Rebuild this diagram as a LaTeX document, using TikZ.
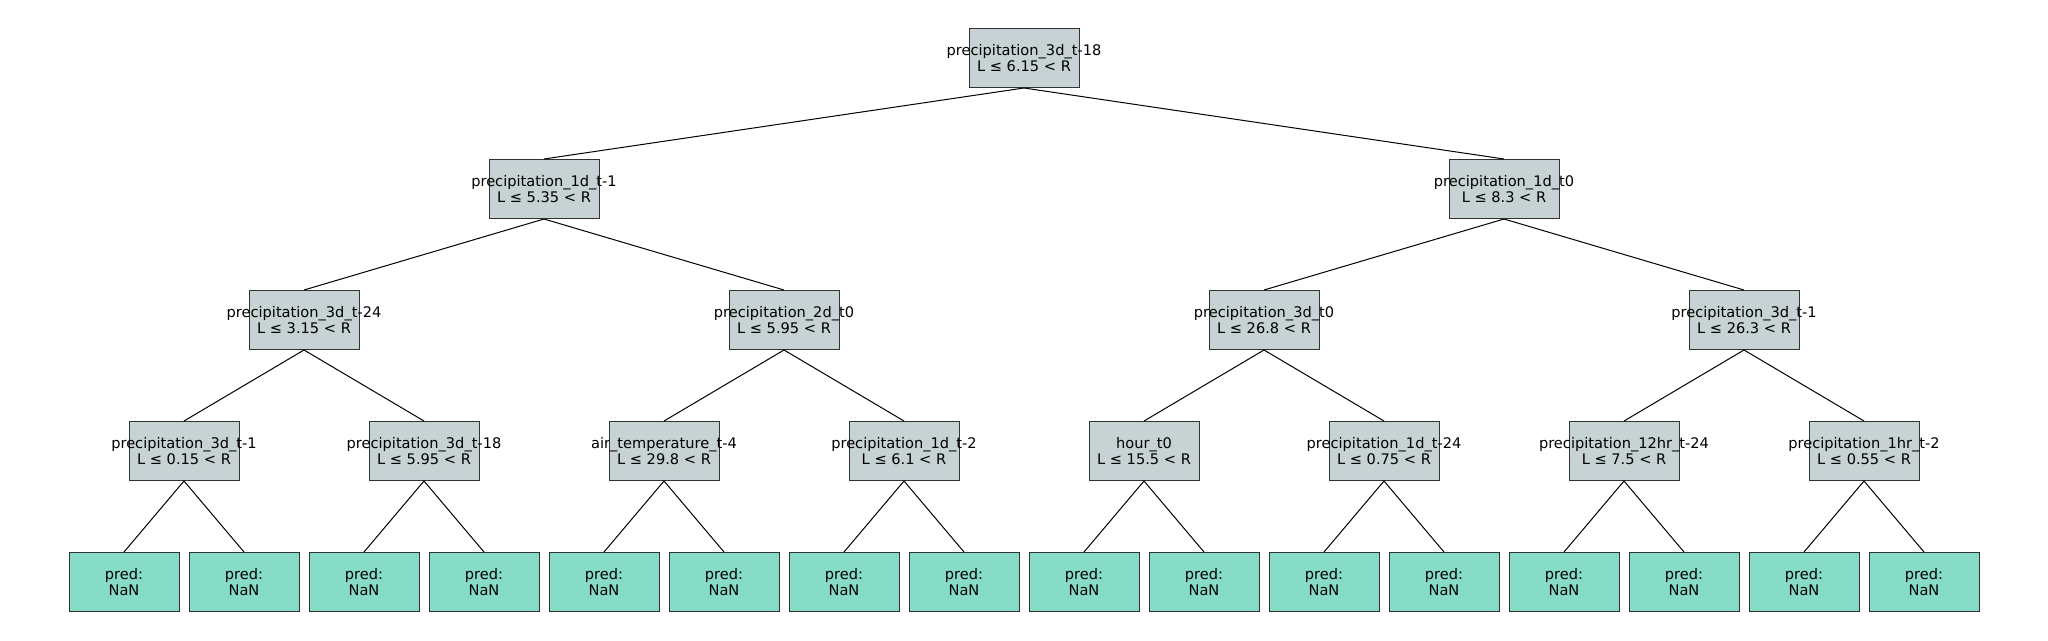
\documentclass[tikz,border=0pt]{standalone}
\usepackage{fontspec}
\setmainfont{DejaVu Sans}
\usepackage{tikz}
\usetikzlibrary{positioning}
\definecolor{splitgray}{RGB}{198,210,211}
\definecolor{leafgreen}{RGB}{134,220,199}
\definecolor{boxline}{RGB}{50,50,50}
\newcommand{\twolines}[2]{\makebox[0pt]{#1}\\\makebox[0pt]{#2}}

\begin{document}
\begin{tikzpicture}[x=1pt, y=1pt,
    splitbox/.style={draw=boxline, fill=splitgray, line width=1pt,
        minimum width=110pt, minimum height=59pt, inner sep=0pt,
        align=center, font=\fontsize{14.6}{16.8}\selectfont},
    leafbox/.style={splitbox, fill=leafgreen}]
    \useasboundingbox (0, 0) rectangle (2048, -640);

    \node[splitbox] (n0) at (1024, -58) {\twolines{precipitation\_3d\_t-18}{L ≤ 6.15 < R}};

    \node[splitbox] (n10) at (544, -189) {\twolines{precipitation\_1d\_t-1}{L ≤ 5.35 < R}};
    \node[splitbox] (n11) at (1504, -189) {\twolines{precipitation\_1d\_t0}{L ≤ 8.3 < R}};

    \node[splitbox] (n20) at (304, -320) {\twolines{precipitation\_3d\_t-24}{L ≤ 3.15 < R}};
    \node[splitbox] (n21) at (784, -320) {\twolines{precipitation\_2d\_t0}{L ≤ 5.95 < R}};
    \node[splitbox] (n22) at (1264, -320) {\twolines{precipitation\_3d\_t0}{L ≤ 26.8 < R}};
    \node[splitbox] (n23) at (1744, -320) {\twolines{precipitation\_3d\_t-1}{L ≤ 26.3 < R}};

    \node[splitbox] (n30) at (184, -451) {\twolines{precipitation\_3d\_t-1}{L ≤ 0.15 < R}};
    \node[splitbox] (n31) at (424, -451) {\twolines{precipitation\_3d\_t-18}{L ≤ 5.95 < R}};
    \node[splitbox] (n32) at (664, -451) {\twolines{air\_temperature\_t-4}{L ≤ 29.8 < R}};
    \node[splitbox] (n33) at (904, -451) {\twolines{precipitation\_1d\_t-2}{L ≤ 6.1 < R}};
    \node[splitbox] (n34) at (1144, -451) {\twolines{hour\_t0}{L ≤ 15.5 < R}};
    \node[splitbox] (n35) at (1384, -451) {\twolines{precipitation\_1d\_t-24}{L ≤ 0.75 < R}};
    \node[splitbox] (n36) at (1624, -451) {\twolines{precipitation\_12hr\_t-24}{L ≤ 7.5 < R}};
    \node[splitbox] (n37) at (1864, -451) {\twolines{precipitation\_1hr\_t-2}{L ≤ 0.55 < R}};

    \node[leafbox] (l0) at (124, -582) {pred:\\NaN};
    \node[leafbox] (l1) at (244, -582) {pred:\\NaN};
    \node[leafbox] (l2) at (364, -582) {pred:\\NaN};
    \node[leafbox] (l3) at (484, -582) {pred:\\NaN};
    \node[leafbox] (l4) at (604, -582) {pred:\\NaN};
    \node[leafbox] (l5) at (724, -582) {pred:\\NaN};
    \node[leafbox] (l6) at (844, -582) {pred:\\NaN};
    \node[leafbox] (l7) at (964, -582) {pred:\\NaN};
    \node[leafbox] (l8) at (1084, -582) {pred:\\NaN};
    \node[leafbox] (l9) at (1204, -582) {pred:\\NaN};
    \node[leafbox] (l10) at (1324, -582) {pred:\\NaN};
    \node[leafbox] (l11) at (1444, -582) {pred:\\NaN};
    \node[leafbox] (l12) at (1564, -582) {pred:\\NaN};
    \node[leafbox] (l13) at (1684, -582) {pred:\\NaN};
    \node[leafbox] (l14) at (1804, -582) {pred:\\NaN};
    \node[leafbox] (l15) at (1924, -582) {pred:\\NaN};

    \draw[line width=1pt]
    (n0.south) edge (n10.north)
    (n0.south) edge (n11.north)
    (n10.south) edge (n20.north)
    (n10.south) edge (n21.north)
    (n11.south) edge (n22.north)
    (n11.south) edge (n23.north)
    (n20.south) edge (n30.north)
    (n20.south) edge (n31.north)
    (n21.south) edge (n32.north)
    (n21.south) edge (n33.north)
    (n22.south) edge (n34.north)
    (n22.south) edge (n35.north)
    (n23.south) edge (n36.north)
    (n23.south) edge (n37.north)
    (n30.south) edge (l0.north)
    (n30.south) edge (l1.north)
    (n31.south) edge (l2.north)
    (n31.south) edge (l3.north)
    (n32.south) edge (l4.north)
    (n32.south) edge (l5.north)
    (n33.south) edge (l6.north)
    (n33.south) edge (l7.north)
    (n34.south) edge (l8.north)
    (n34.south) edge (l9.north)
    (n35.south) edge (l10.north)
    (n35.south) edge (l11.north)
    (n36.south) edge (l12.north)
    (n36.south) edge (l13.north)
    (n37.south) edge (l14.north)
    (n37.south) edge (l15.north);
\end{tikzpicture}
\end{document}
